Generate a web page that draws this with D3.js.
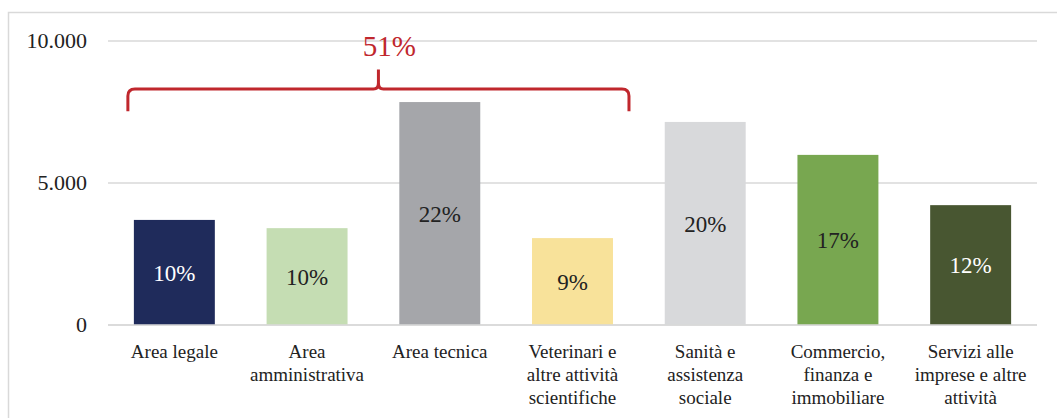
<!DOCTYPE html>
<html>
<head>
<meta charset="utf-8">
<script src="https://cdn.jsdelivr.net/npm/d3@7"></script>
<style>
  body { margin: 0; background: #fff; }
</style>
</head>
<body>
<div id="chart"></div>
<script>
var categories = ["Area legale", "Area amministrativa", "Area tecnica", "Veterinari e altre attività scientifiche",
  "Sanità e assistenza sociale", "Commercio, finanza e immobiliare", "Servizi alle imprese e altre attività"];
var labelLines = [["Area legale"], ["Area", "amministrativa"], ["Area tecnica"], ["Veterinari e", "altre attività", "scientifiche"],
  ["Sanità e", "assistenza", "sociale"], ["Commercio,", "finanza e", "immobiliare"], ["Servizi alle", "imprese e altre", "attività"]];
var values = [3700, 3410, 7850, 3060, 7150, 5990, 4220];
var shares = ["10%", "10%", "22%", "9%", "20%", "17%", "12%"];
var colors = ["#1f2b5b", "#c5ddb3", "#a5a6aa", "#f8e29a", "#d8d9db", "#78a750", "#485631"];
var labelColors = ["#ffffff", "#222222", "#222222", "#222222", "#222222", "#222222", "#ffffff"];
var yTicks = [0, 5000, 10000];
var braceLabel = "51%";

var width = 1057, height = 418;
var margin = {left: 108, right: 20, top: 41, bottom: 93};
var serif = "'Liberation Serif'";

var svg = d3.select("#chart").append("svg")
  .attr("width", width)
  .attr("height", height);

// chart frame (cut at right/bottom like the reference)
svg.append("rect")
  .attr("x", 8.5).attr("y", 12.5)
  .attr("width", 1100).attr("height", 500)
  .attr("fill", "none")
  .attr("stroke", "#d9d9d9")
  .attr("stroke-width", 1.5);

var x = d3.scaleBand()
  .domain(categories)
  .range([margin.left, width - margin.right])
  .paddingInner(0.39)
  .paddingOuter(0.195);

var y = d3.scaleLinear()
  .domain([0, 10000])
  .range([height - margin.bottom, margin.top]);

var fmt = function (d) { return d3.format(",")(d).replace(/,/g, "."); };

// gridlines
svg.selectAll(".grid")
  .data(yTicks)
  .enter()
  .append("line")
    .attr("class", "grid")
    .attr("x1", margin.left)
    .attr("x2", width - margin.right)
    .attr("y1", function (d) { return y(d); })
    .attr("y2", function (d) { return y(d); })
    .attr("stroke", "#d9d9d9")
    .attr("stroke-width", 1.5);

svg.selectAll(".ytick")
  .data(yTicks)
  .enter()
  .append("text")
    .attr("class", "ytick")
    .attr("x", 87)
    .attr("y", function (d) { return y(d); })
    .attr("dy", "0.3em")
    .attr("text-anchor", "end")
    .style("font-family", serif)
    .style("font-size", "22px")
    .attr("fill", "#222")
    .text(fmt);

// bars
svg.selectAll(".bar")
  .data(values)
  .enter()
  .append("rect")
    .attr("class", "bar")
    .attr("x", function (d, i) { return x(categories[i]); })
    .attr("y", function (d) { return y(d); })
    .attr("width", x.bandwidth())
    .attr("height", function (d) { return y(0) - y(d); })
    .attr("fill", function (d, i) { return colors[i]; });

// zero line on top of bars
svg.append("line")
  .attr("x1", margin.left).attr("x2", width - margin.right)
  .attr("y1", y(0)).attr("y2", y(0))
  .attr("stroke", "#d9d9d9")
  .attr("stroke-width", 1.5);

// share labels
svg.selectAll(".share")
  .data(values)
  .enter()
  .append("text")
    .attr("class", "share")
    .attr("x", function (d, i) { return x(categories[i]) + x.bandwidth() / 2; })
    .attr("y", function (d) { return (y(d) + y(0)) / 2; })
    .attr("dy", "0.35em")
    .attr("text-anchor", "middle")
    .style("font-family", serif)
    .style("font-size", "23px")
    .attr("fill", function (d, i) { return labelColors[i]; })
    .text(function (d, i) { return shares[i]; });

// category labels
var catG = svg.selectAll(".cat")
  .data(labelLines)
  .enter()
  .append("text")
    .attr("class", "cat")
    .attr("text-anchor", "middle")
    .style("font-family", serif)
    .style("font-size", "19px")
    .attr("fill", "#222");
catG.selectAll("tspan")
  .data(function (d, i) { return d.map(function (l) { return {t: l, i: i}; }); })
  .enter()
  .append("tspan")
    .attr("x", function (d) { return x(categories[d.i]) + x.bandwidth() / 2; })
    .attr("y", function (d, j) { return y(0) + 33 + j * 23; })
    .text(function (d) { return d.t; });

// red brace over the first four categories
var bx0 = x(categories[0]) - 6,
    bx1 = x(categories[3]) + x.bandwidth() + 16,
    bmid = (bx0 + bx1) / 2,
    byLine = y(8310), byEnd = y(7530), byTip = y(9000), r = 7;
var p = d3.path();
p.moveTo(bx0, byEnd);
p.lineTo(bx0, byLine + r);
p.quadraticCurveTo(bx0, byLine, bx0 + r, byLine);
p.lineTo(bmid - 5, byLine);
p.quadraticCurveTo(bmid, byLine, bmid, byLine - 6);
p.lineTo(bmid, byTip);
p.moveTo(bmid, byLine - 6);
p.quadraticCurveTo(bmid, byLine, bmid + 5, byLine);
p.lineTo(bx1 - r, byLine);
p.quadraticCurveTo(bx1, byLine, bx1, byLine + r);
p.lineTo(bx1, byEnd);
svg.append("path")
  .attr("d", p.toString())
  .attr("fill", "none")
  .attr("stroke", "#c0272d")
  .attr("stroke-width", 3);

svg.append("text")
  .attr("x", bmid + 11)
  .attr("y", y(9000) - 13)
  .attr("text-anchor", "middle")
  .style("font-family", serif)
  .style("font-size", "29px")
  .attr("fill", "#c0272d")
  .text(braceLabel);
</script>
</body>
</html>
